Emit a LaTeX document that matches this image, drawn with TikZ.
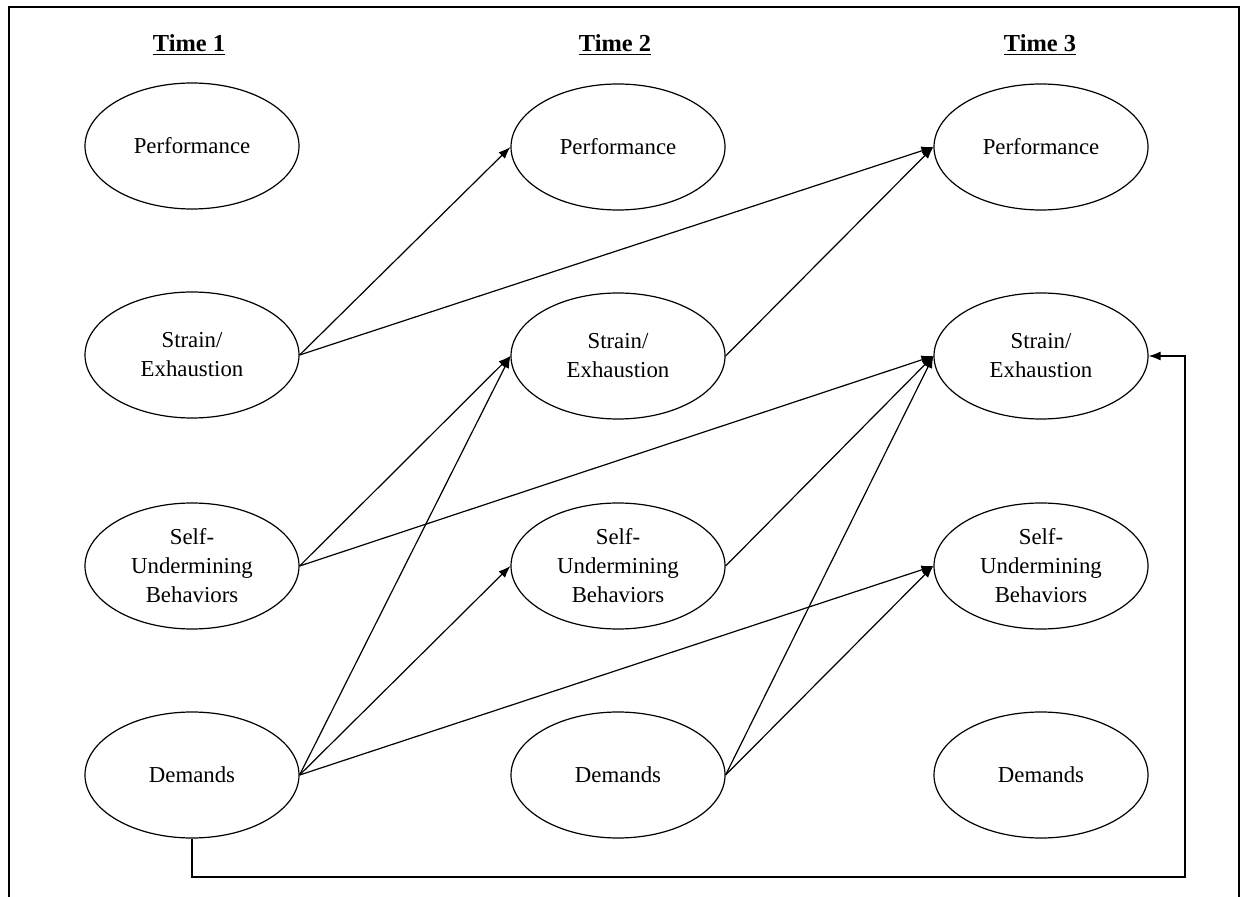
\documentclass[tikz,border=0pt]{standalone}
\usepackage{fontspec}
\setmainfont{Liberation Serif}
\usetikzlibrary{shapes.geometric, arrows.meta}

\begin{document}
\begin{tikzpicture}[x=0.5pt, y=-0.5pt, every node/.style={font=\fontsize{11.4}{14.5}\selectfont},
    latent/.style={ellipse, draw, line width=0.6pt, minimum width=107pt, minimum height=63pt, inner sep=0pt, align=center},
    title/.style={font=\fontsize{12.2}{14.5}\selectfont\bfseries},
    link/.style={line width=0.6pt, -{Latex[length=6pt, width=4.5pt]}}]
                \useasboundingbox (0,0) rectangle (1252,897);
                % Frame
                \draw[line width=1.3pt] (9,897) -- (9,7) -- (1239,7) -- (1239,897);

                % Titles
                \node[title] (time1) at (189,45) {\underline{Time 1}};
                \node[title] (time2) at (615,45) {\underline{Time 2}};
                \node[title] (time3) at (1040,45) {\underline{Time 3}};

                % Time 1
                \node[latent] (perf1) at (192,146) {Performance};
                \node[latent] (strain1) at (192,355) {Strain/\\Exhaustion};
                \node[latent] (self1) at (192,566) {Self-\\Undermining\\Behaviors};
                \node[latent] (dem1) at (192,775) {Demands};

                % Time 2
                \node[latent] (perf2) at (618,147) {Performance};
                \node[latent] (strain2) at (618,356) {Strain/\\Exhaustion};
                \node[latent] (self2) at (618,566) {Self-\\Undermining\\Behaviors};
                \node[latent] (dem2) at (618,775) {Demands};

                % Time 3
                \node[latent] (perf3) at (1041,147) {Performance};
                \node[latent] (strain3) at (1041,356) {Strain/\\Exhaustion};
                \node[latent] (self3) at (1041,566) {Self-\\Undermining\\Behaviors};
                \node[latent] (dem3) at (1041,775) {Demands};

                % Paths
                \draw[link] (strain1.east) -- (perf2.west);
                \draw[link] (strain1.east) -- (perf3.west);
                \draw[link] (strain2.east) -- (perf3.west);
                \draw[link] (self1.east) -- (strain2.west);
                \draw[link] (self1.east) -- (strain3.west);
                \draw[link] (dem1.east) -- (strain2.west);
                \draw[link] (dem1.east) -- (self2.west);
                \draw[link] (dem1.east) -- (self3.west);
                \draw[link] (self2.east) -- (strain3.west);
                \draw[link] (dem2.east) -- (strain3.west);
                \draw[link] (dem2.east) -- (self3.west);

                % Lagged path
                \coordinate (turn) at (1185,877);
                \draw[link] (dem1.south) |- (turn) |- (strain3.east);
\end{tikzpicture}
\end{document}
